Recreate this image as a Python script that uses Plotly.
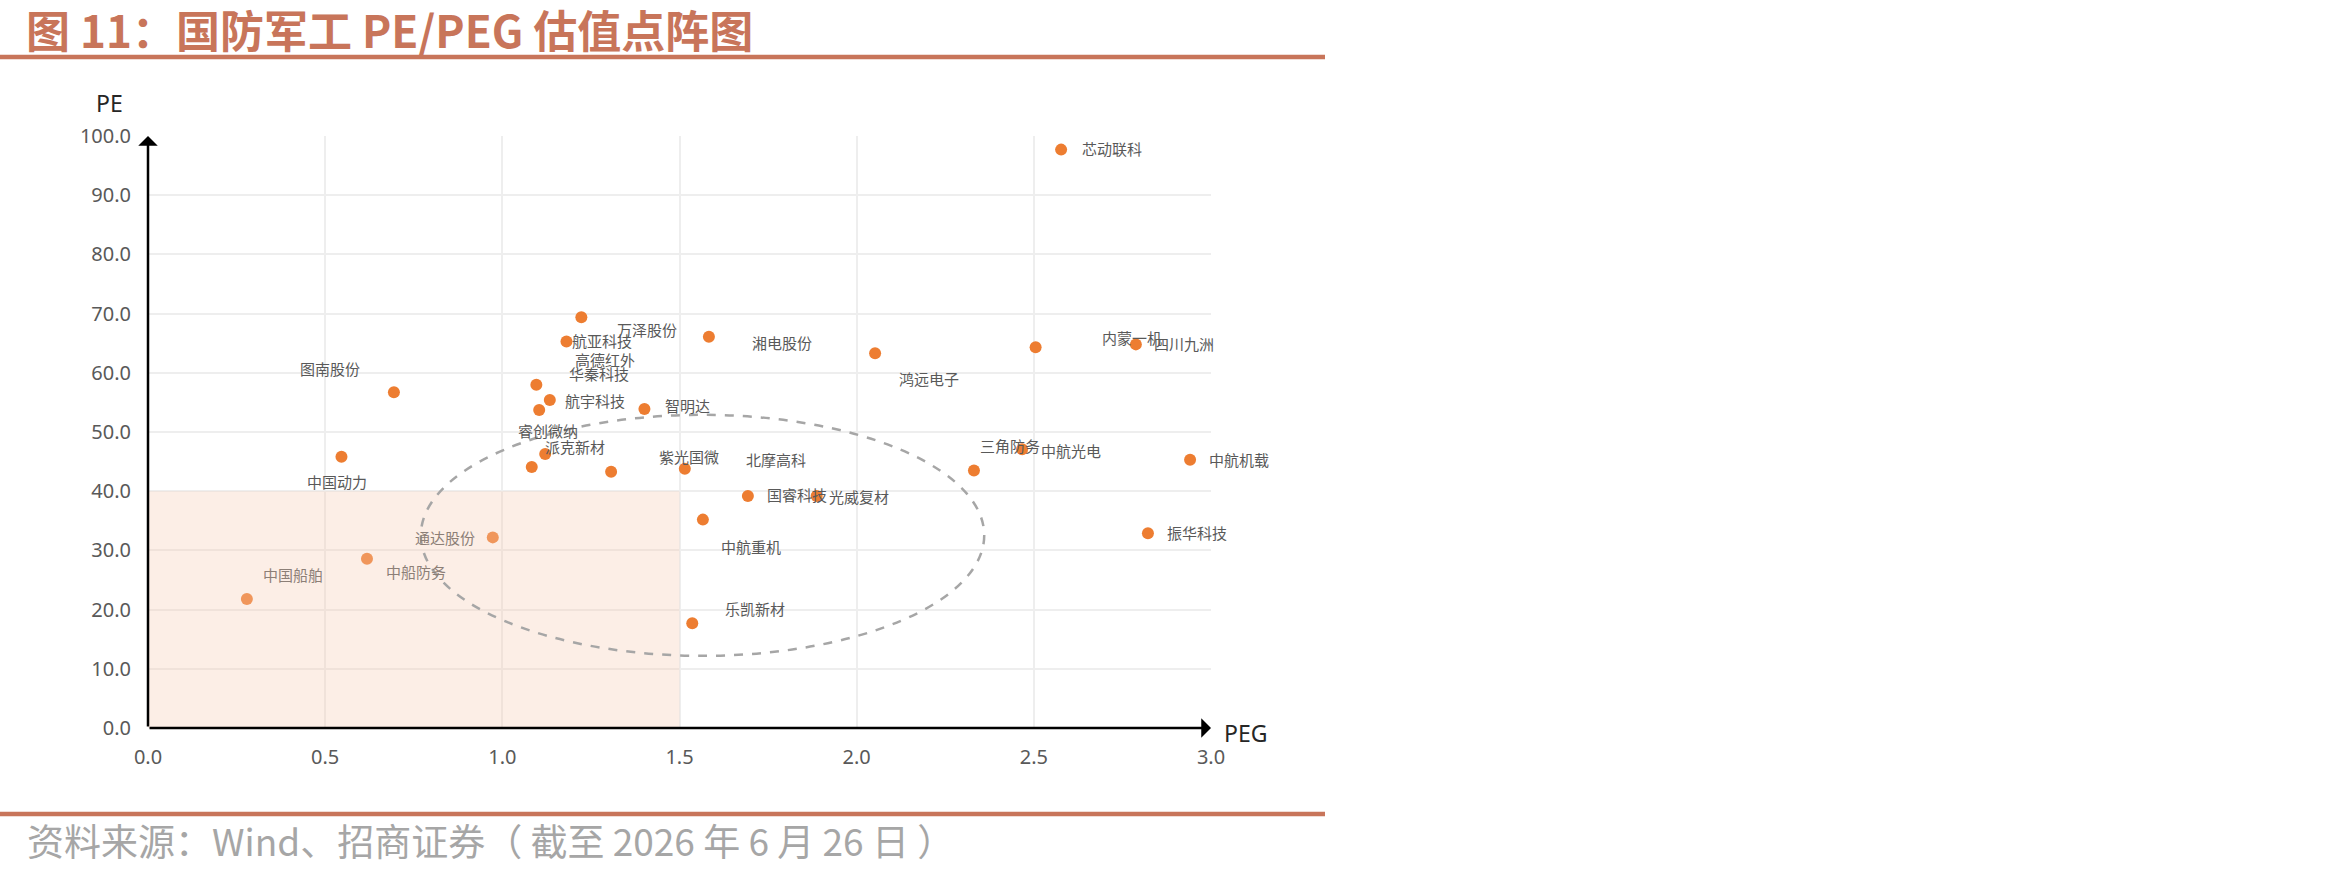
import plotly.graph_objects as go

# ---------------- data ----------------
names = ["芯动联科", "万泽股份", "航亚科技", "湘电股份", "鸿远电子", "内蒙一机", "四川九洲",
         "图南股份", "高德红外", "航宇科技", "华秦科技", "智明达", "派克新材", "睿创微纳",
         "北摩高科", "紫光国微", "国睿科技", "光威复材", "三角防务", "中航光电", "中航机载",
         "振华科技", "中国动力", "中航重机", "通达股份", "中船防务", "中国船舶", "乐凯新材"]
peg = [2.577, 1.223, 1.181, 1.583, 2.052, 2.505, 2.788,
       0.694, 1.096, 1.134, 1.104, 1.401, 1.121, 1.083,
       1.307, 1.515, 1.693, 1.887, 2.331, 2.467, 2.941,
       2.822, 0.546, 1.566, 0.973, 0.618, 0.279, 1.536]
pe = [97.7, 69.4, 65.3, 66.1, 63.3, 64.3, 64.8,
      56.7, 58.0, 55.4, 53.7, 53.9, 46.3, 44.1,
      43.3, 43.8, 39.2, 39.2, 43.5, 47.1, 45.3,
      32.9, 45.8, 35.2, 32.2, 28.6, 21.8, 17.7]

x_ticks = [0.0, 0.5, 1.0, 1.5, 2.0, 2.5, 3.0]
y_ticks = [0, 10, 20, 30, 40, 50, 60, 70, 80, 90, 100]

# shaded "low valuation" zone and highlighted ellipse (data units)
zone_peg_max, zone_pe_max = 1.5, 40
ellipse_peg = (0.77, 2.36)
ellipse_pe = (12.2, 52.9)

# ---------------- styles ----------------
W, H = 2350, 874
PX_L, PX_R, PX_T, PX_B = 148, 1211, 136, 728   # plot area in pixels
X_RANGE = [0, 3]
Y_RANGE = [0, 100]

# label offsets (pixels: +x right, +y down) from each dot
label_offsets = {
    "芯动联科": (51, -1), "万泽股份": (66, 12), "航亚科技": (36, -1), "湘电股份": (73, 6),
    "鸿远电子": (54, 25), "内蒙一机": (96, -10), "四川九洲": (48, -1), "图南股份": (-64, -24),
    "高德红外": (69, -25), "航宇科技": (45, 0), "华秦科技": (60, -37), "智明达": (43, -3),
    "派克新材": (30, -7), "睿创微纳": (16, -36), "北摩高科": (165, -12), "紫光国微": (4, -12),
    "国睿科技": (49, -1), "光威复材": (42, 1), "三角防务": (36, -25), "中航光电": (49, 1),
    "中航机载": (49, 0), "振华科技": (49, -1), "中国动力": (-4, 25), "中航重机": (48, 27),
    "通达股份": (-48, 0), "中船防务": (49, 13), "中国船舶": (46, -24), "乐凯新材": (63, -15),
}

ORANGE = "#ED7D31"
TITLE_C = "#C8755A"
LABEL_C = "#595959"
LABEL_TINT_C = "#8C7F77"   # label colour seen through the shaded zone
CJK = "Noto Sans CJK SC"

fig = go.Figure()
fig.add_trace(go.Scatter(
    x=peg, y=pe, mode="markers",
    marker=dict(size=12, color=ORANGE, line=dict(width=0)),
    cliponaxis=False, hoverinfo="skip", showlegend=False))

# shaded low-valuation region (drawn above the dots, semi-transparent)
fig.add_shape(type="rect", xref="x", yref="y", x0=0, x1=zone_peg_max, y0=0, y1=zone_pe_max,
              fillcolor="rgb(245,203,179)", opacity=0.33, line=dict(width=0), layer="above")
# dashed ellipse
fig.add_shape(type="circle", xref="x", yref="y", x0=ellipse_peg[0], x1=ellipse_peg[1],
              y0=ellipse_pe[0], y1=ellipse_pe[1],
              line=dict(color="#A6A6A6", width=2.5, dash="dash"), fillcolor="rgba(0,0,0,0)",
              layer="above")

# data labels
for n, x, y in zip(names, peg, pe):
    dx, dy = label_offsets[n]
    col = LABEL_TINT_C if (x < zone_peg_max and y < zone_pe_max) else LABEL_C
    fig.add_annotation(x=x, y=y, xref="x", yref="y", text=n, showarrow=False,
                       xanchor="center", yanchor="middle", xshift=dx, yshift=-dy,
                       font=dict(size=15, color=col, family=CJK))

# axis arrows
fig.add_annotation(x=X_RANGE[1], y=0, ax=0, ay=0, xref="x", yref="y", axref="x", ayref="y",
                   text="", showarrow=True, arrowhead=1, arrowsize=1.3, arrowwidth=2.5,
                   arrowcolor="#000000", standoff=0)
fig.add_annotation(x=0, y=Y_RANGE[1], ax=0, ay=0, xref="x", yref="y", axref="x", ayref="y",
                   text="", showarrow=True, arrowhead=1, arrowsize=1.3, arrowwidth=2.5,
                   arrowcolor="#000000", standoff=0)

# axis titles
fig.add_annotation(x=109 / W, y=1 - 103 / H, xref="paper", yref="paper", text="PE",
                   xanchor="center", yanchor="middle", showarrow=False,
                   font=dict(size=23, color="#262626", family="Noto Sans"))
fig.add_annotation(x=1245 / W, y=1 - 733 / H, xref="paper", yref="paper", text="PEG",
                   xanchor="center", yanchor="middle", showarrow=False,
                   font=dict(size=23, color="#262626", family="Noto Sans"))

# title & source
fig.add_annotation(x=25 / W, y=1 - 29 / H, xref="paper", yref="paper",
                   xanchor="left", yanchor="middle", borderpad=0,
                   text="<b>图 11：国防军工 PE/PEG 估值点阵图</b>", showarrow=False,
                   font=dict(size=44, color=TITLE_C, family=CJK))
fig.add_annotation(x=25 / W, y=1 - 840 / H, xref="paper", yref="paper",
                   xanchor="left", yanchor="middle",
                   text="资料来源：Wind、招商证券（ 截至 2026 年 6 月 26 日 ）", showarrow=False,
                   font=dict(size=37, color="#A6A6A6", family=CJK))
for yy in (57, 814):
    fig.add_shape(type="line", xref="paper", yref="paper", x0=0, x1=1325 / W,
                  y0=1 - yy / H, y1=1 - yy / H, line=dict(color=TITLE_C, width=4.5))

axis_common = dict(showgrid=True, gridcolor="#EEEEEE", gridwidth=2, zeroline=False,
                   showline=False, ticks="", automargin=False,
                   tickfont=dict(size=20, color="#595959", family="Noto Sans"),
                   tickformat=".1f", fixedrange=True)
fig.update_layout(
    width=W, height=H, margin=dict(l=0, r=0, t=0, b=0, pad=0, autoexpand=False),
    paper_bgcolor="white", plot_bgcolor="white", showlegend=False,
    xaxis=dict(range=X_RANGE, tickvals=x_ticks, domain=[PX_L / W, PX_R / W],
               ticklabelstandoff=15, **axis_common),
    yaxis=dict(range=Y_RANGE, tickvals=y_ticks, domain=[1 - PX_B / H, 1 - PX_T / H],
               ticklabelstandoff=16, **axis_common),
)

fig.write_html("out.html", post_script="document.body.style.margin='0';")
